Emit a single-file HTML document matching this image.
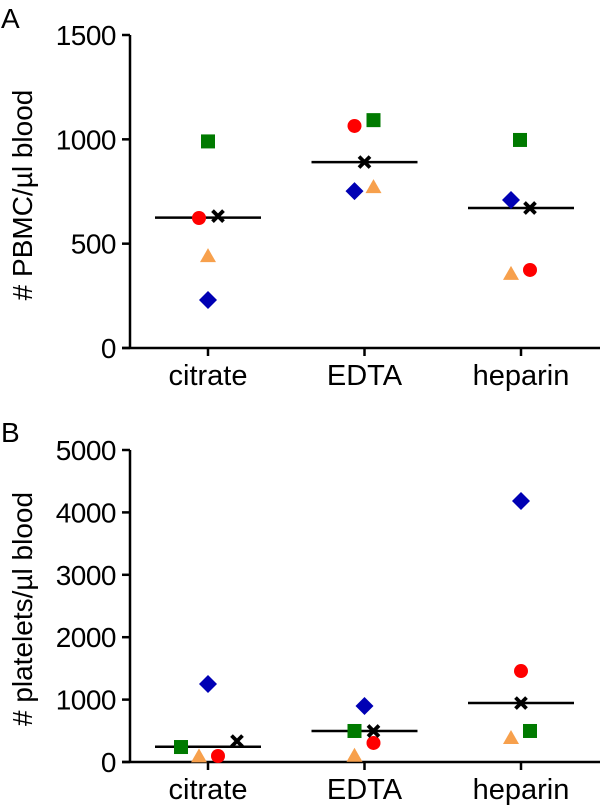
<!DOCTYPE html>
<html><head><meta charset="utf-8"><style>
html,body{margin:0;padding:0;background:#fff;}
svg{display:block;font-family:"Liberation Sans",Arial,sans-serif;}
</style></head><body>
<svg id="chart" width="600" height="806" viewBox="0 0 600 806" xmlns="http://www.w3.org/2000/svg"></svg>
<script>
const categories = ["citrate", "EDTA", "heparin"];
// Panel A: PBMC/µl
const aTicks = [0, 500, 1000, 1500];
const aSquare = [990, 1092, 997];
const aCircle = [623, 1064, 374];
const aTriangle = [440, 771, 355];
const aDiamond = [230, 752, 709];
const aCross = [632, 891, 671];
const aMedian = [625, 891, 671];
// Panel B: platelets/µl
const bTicks = [0, 1000, 2000, 3000, 4000, 5000];
const bSquare = [240, 497, 497];
const bCircle = [96, 305, 1458];
const bTriangle = [90, 100, 385];
const bDiamond = [1250, 897, 4183];
const bCross = [336, 497, 945];
const bMedian = [245, 497, 945];

const NS = "http://www.w3.org/2000/svg";
const svg = document.getElementById("chart");
function mk(tag, attrs, parent) {
  const e = document.createElementNS(NS, tag);
  for (const k in attrs) e.setAttribute(k, attrs[k]);
  (parent || svg).appendChild(e);
  return e;
}
const catX = i => 208 + i * 156.5;

function panel(cfg) {
  const g = mk("g", {});
  
  
  const y = v => cfg.y0 - v * (cfg.y0 - cfg.yTop) / cfg.max;
  const lab = mk("text", {x: 1, y: cfg.labelY, "font-size": 28, fill: "#000"}, g);
  lab.textContent = cfg.letter;
  
  
  const ya = mk("line", {x1: 130, y1: cfg.yTop, x2: 130, y2: cfg.y0, stroke: "#000", "stroke-width": 2.5}, g);
  
  
  const xa = mk("line", {x1: 122, y1: cfg.y0, x2: 600, y2: cfg.y0, stroke: "#000", "stroke-width": 2.5}, g);
  
  
  cfg.ticks.forEach(t => {
    const ty = y(t);
    const tl = mk("line", {x1: 122, y1: ty, x2: 130, y2: ty, stroke: "#000", "stroke-width": 2.5}, g);
    
    
    const tx = mk("text", {x: 116, y: ty + 10, "font-size": 28, "text-anchor": "end", fill: "#000", "letter-spacing": "-0.5"}, g);
    tx.textContent = t;
    
    
  });
  categories.forEach((c, i) => {
    const cx = catX(i);
    const tk = mk("line", {x1: cx, y1: cfg.y0, x2: cx, y2: cfg.y0 + 8, stroke: "#000", "stroke-width": 2.5}, g);
    
    
    const tx = mk("text", {x: cx, y: cfg.y0 + 37, "font-size": 29, "text-anchor": "middle", fill: "#000"}, g);
    tx.textContent = c;
    
    
  });
  const title = mk("text", {x: 0, y: 0, "font-size": 28, "text-anchor": "middle", fill: "#000",
    transform: `translate(32,${cfg.titleY}) rotate(-90)`}, g);
  title.textContent = cfg.title;
  
  

  categories.forEach((c, i) => {
    const cx = catX(i);
    const ml = mk("line", {x1: cx - 53, y1: y(cfg.median[i]), x2: cx + 53, y2: y(cfg.median[i]), stroke: "#000", "stroke-width": 2.5}, g);
    
    
    const o = cfg.off;
    const sx = cx + o.sq[i], sy = y(cfg.square[i]);
    const sq = mk("rect", {x: sx - 7, y: sy - 7, width: 14, height: 14, fill: "#007a00"}, g);
    
    
    const ci = mk("circle", {cx: cx + o.ci[i], cy: y(cfg.circle[i]), r: 7, fill: "#ff0000"}, g);
    
    
    const tx = cx + o.tr[i], ty = y(cfg.triangle[i]);
    const tr = mk("polygon", {points: `${tx},${ty - 8} ${tx - 8},${ty + 6} ${tx + 8},${ty + 6}`, fill: "#f7a04c"}, g);
    
    
    const dx = cx + o.di[i], dy = y(cfg.diamond[i]);
    const di = mk("polygon", {points: `${dx},${dy - 9} ${dx + 9},${dy} ${dx},${dy + 9} ${dx - 9},${dy}`, fill: "#0000b4"}, g);
    
    
    const xx = cx + o.cr[i], xy = y(cfg.cross[i]);
    const cr = mk("path", {d: `M${xx - 5.5},${xy - 5.5}L${xx + 5.5},${xy + 5.5}M${xx + 5.5},${xy - 5.5}L${xx - 5.5},${xy + 5.5}`, stroke: "#000", "stroke-width": 3.8}, g);
    
    
  });
}

panel({name: "panel-a-pbmc", letter: "A", labelY: 28, y0: 348, yTop: 35, max: 1500, ticks: aTicks,
  title: "# PBMC/µl blood", titleY: 195,
  square: aSquare, circle: aCircle, triangle: aTriangle, diamond: aDiamond, cross: aCross, median: aMedian,
  off: {sq: [0, 9, -1], ci: [-9, -10, 9], tr: [0, 9, -10], di: [0, -10, -10], cr: [10, 0, 9]}});
panel({name: "panel-b-platelets", letter: "B", labelY: 442, y0: 762, yTop: 450, max: 5000, ticks: bTicks,
  title: "# platelets/µl blood", titleY: 609,
  square: bSquare, circle: bCircle, triangle: bTriangle, diamond: bDiamond, cross: bCross, median: bMedian,
  off: {sq: [-27, -10, 9], ci: [10, 9, 0], tr: [-9, -10, -10], di: [0, 0, 0], cr: [29, 9, 0]}});
</script>
</body></html>
